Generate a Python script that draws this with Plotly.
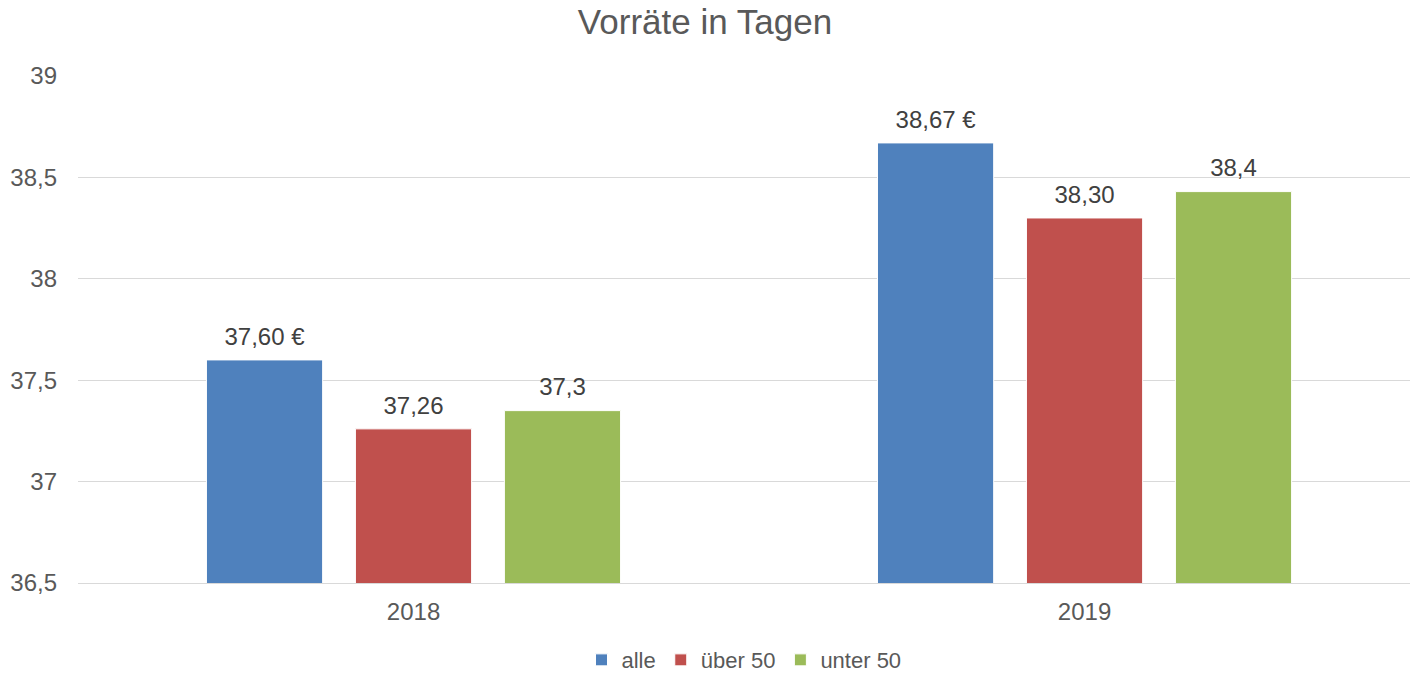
import plotly.graph_objects as go

categories = ["2018", "2019"]
series_names = ["alle", "über 50", "unter 50"]
alle = [37.60, 38.67]
ueber50 = [37.26, 38.30]
unter50 = [37.35, 38.43]
labels_alle = ["37,60 €", "38,67 €"]
labels_ueber50 = ["37,26", "38,30"]
labels_unter50 = ["37,3", "38,4"]
colors = ["#4F81BD", "#C0504D", "#9BBB59"]

values = [alle, ueber50, unter50]
labels = [labels_alle, labels_ueber50, labels_unter50]

FONT = "Liberation Sans, Arial, sans-serif"
TXT = "#595959"

fig = go.Figure()
for name, vals, col in zip(series_names, values, colors):
    fig.add_trace(go.Bar(
        x=categories, y=vals, name=name,
        marker=dict(color=col, line=dict(color="white", width=1)),
        hoverinfo="skip",
    ))
for name, vals, labs in zip(series_names, values, labels):
    fig.add_trace(go.Scatter(
        x=categories, y=vals, mode="markers+text", text=labs,
        textposition="top center",
        textfont=dict(family=FONT, size=24, color="#404040"),
        marker=dict(size=13, opacity=0),
        showlegend=False, hoverinfo="skip", cliponaxis=False,
    ))

fig.update_layout(
    width=1410, height=673,
    margin=dict(l=78, r=0, t=76, b=90, autoexpand=False),
    paper_bgcolor="white", plot_bgcolor="white",
    barmode="group", bargap=0.334, bargroupgap=0.22,
    scattermode="group", scattergap=0.334,
    separators=",.",
    font=dict(family=FONT, size=24, color=TXT),
    title=dict(text="Vorräte in Tagen", x=0.5, xanchor="center",
               xref="container", yref="container", y=1 - 22 / 673,
               yanchor="middle",
               font=dict(family=FONT, size=35, color=TXT)),
    showlegend=True,
    legend=dict(orientation="h", x=0.5, xanchor="center", y=-0.152,
                yanchor="middle", font=dict(family=FONT, size=22, color=TXT),
                itemwidth=30, traceorder="normal"),
    hovermode=False,
)
fig.update_xaxes(
    type="category", range=[-0.5, 1.485], automargin=False,
    showgrid=False, showline=True, linecolor="#D9D9D9", linewidth=1,
    ticks="", ticklabelstandoff=7,
    tickfont=dict(family=FONT, size=24, color=TXT),
)
fig.update_yaxes(
    range=[36.5, 39], dtick=0.5, tick0=36.5, automargin=False,
    showgrid=True, gridcolor="#D9D9D9", gridwidth=1,
    zeroline=False, showline=False, ticks="", ticklabelstandoff=20,
    tickfont=dict(family=FONT, size=24, color=TXT),
)

fig.write_html(
    "out.html",
    config={"displayModeBar": False},
    post_script="document.body.style.margin='0';document.body.style.overflow='hidden';",
)
